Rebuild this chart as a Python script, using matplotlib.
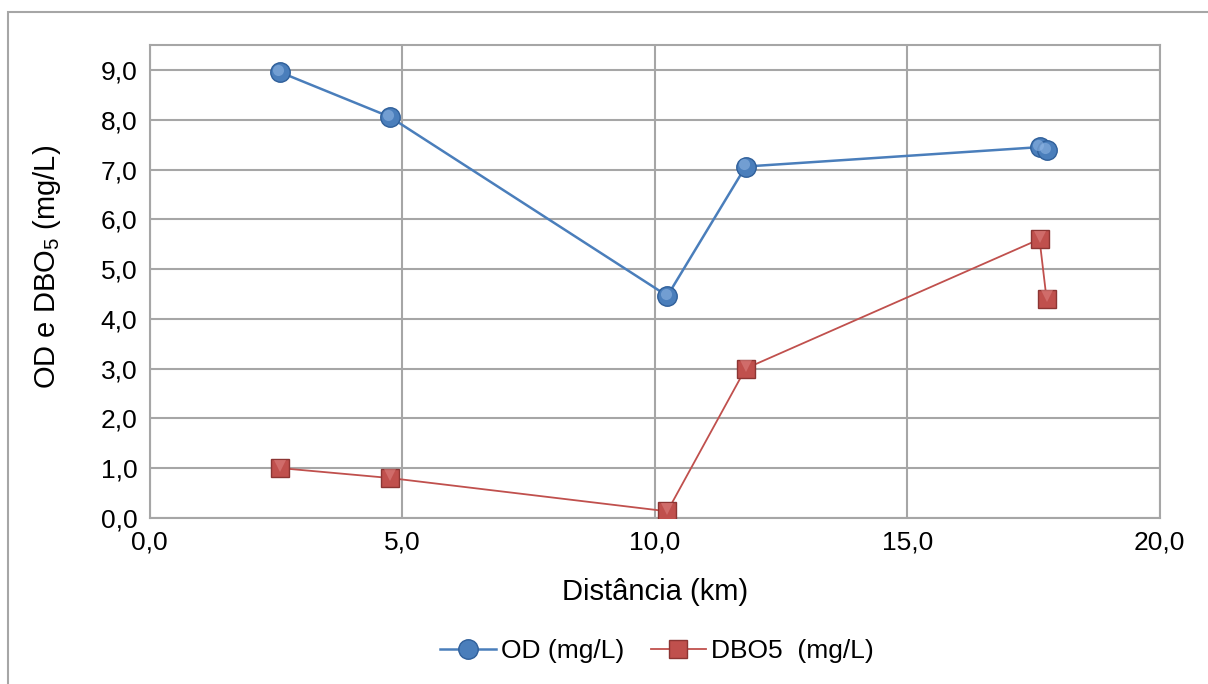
import matplotlib.pyplot as plt
from matplotlib.patches import Rectangle
from matplotlib.transforms import offset_copy

plt.rcParams['font.family'] = ['Liberation Sans', 'DejaVu Sans']
plt.rcParams['mathtext.fontset'] = 'custom'
plt.rcParams['mathtext.rm'] = 'Liberation Sans'

# --- dados ---
distancia = [2.57, 4.75, 10.25, 11.8, 17.62, 17.76]
od = [8.96, 8.06, 4.46, 7.06, 7.45, 7.40]
dbo5 = [1.0, 0.8, 0.13, 3.0, 5.6, 4.4]
yticks = [0, 1, 2, 3, 4, 5, 6, 7, 8, 9]
xticks = [0, 5, 10, 15, 20]

fig = plt.figure(figsize=(12.08, 6.84), dpi=100)
ax = fig.add_axes([0.124, 0.243, 0.836, 0.691])

# moldura externa
fig.patches.append(Rectangle((0.0066, -0.1), 1.2, 1.082, transform=fig.transFigure,
                             fill=False, edgecolor='#a6a6a6', lw=1.5))

ax.plot(distancia, od, color='#4a7ebb', lw=1.8, marker='o', markersize=14,
        markerfacecolor='#4a7ebb', markeredgecolor='#2f5f9a', markeredgewidth=1,
        label='OD (mg/L)', zorder=3)
# brilho das esferas
brilho = offset_copy(ax.transData, fig=fig, x=-1.0, y=1.5, units='points')
ax.plot(distancia, od, linestyle='none', marker='o', markersize=8,
        markerfacecolor='#8db4e3', markeredgewidth=0, alpha=0.6,
        transform=brilho, zorder=4)

ax.plot(distancia, dbo5, color='#c0504d', lw=1.3, marker='s', markersize=13.5,
        markerfacecolor='#c0504d', markeredgecolor='#8c3533', markeredgewidth=1,
        label='DBO5  (mg/L)', zorder=3)
# faceta superior das pirâmides
faceta = offset_copy(ax.transData, fig=fig, x=0, y=1.8, units='points')
ax.plot(distancia, dbo5, linestyle='none', marker='v', markersize=9,
        markerfacecolor='#dc807e', markeredgewidth=0, alpha=0.6,
        transform=faceta, zorder=4)

ax.set_xlim(0, 20)
ax.set_ylim(0, 9.5)
ax.set_xticks(xticks)
ax.set_yticks(yticks)
ax.set_xticklabels([f'{v:.1f}'.replace('.', ',') for v in xticks])
ax.set_yticklabels([f'{v:.1f}'.replace('.', ',') for v in yticks])
ax.tick_params(length=0, labelsize=19, pad=9)
ax.grid(True, color='#a6a6a6', lw=1.5)
ax.set_axisbelow(True)
for s in ax.spines.values():
    s.set_color('#a6a6a6')
    s.set_linewidth(1.5)

ax.set_xlabel('Distância (km)', fontsize=21, labelpad=17)
ax.set_ylabel('OD e DBO$_5$ (mg/L)', fontsize=21)
ax.yaxis.set_label_coords(-0.086, 0.53)

fig.legend(loc='center', bbox_to_anchor=(0.544, 0.048), ncol=2, frameon=False,
           fontsize=19, handlelength=2.1, handletextpad=0.2, columnspacing=1.0)

fig.savefig('out.png', dpi=100)
